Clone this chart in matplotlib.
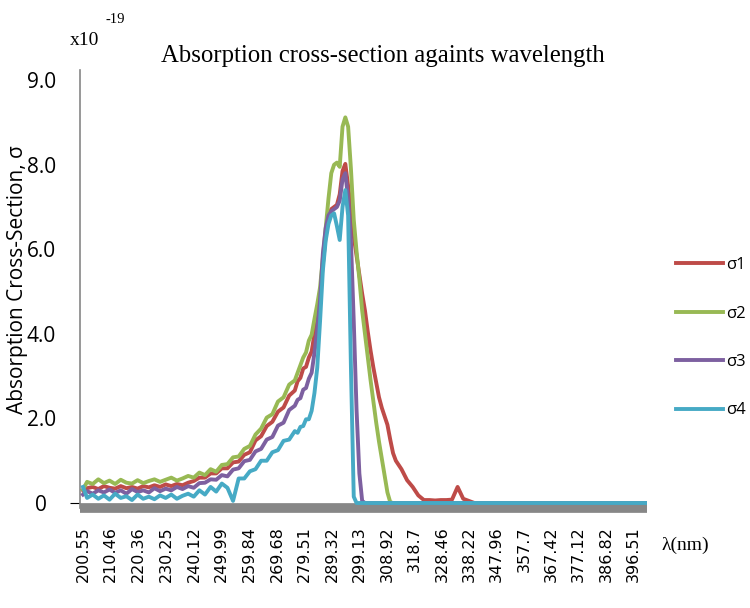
import matplotlib
matplotlib.use("Agg")
import matplotlib.pyplot as plt

# === DATA (y in axis units; tick labels below are what the chart prints) ===
wavelength = [
    200.55, 202, 204, 206, 208, 210, 212, 214, 216, 218,
    220, 222, 224, 226, 228, 230, 232, 234, 236, 238,
    240, 242, 244, 246, 248, 250, 252, 254, 256, 258,
    260, 262, 264, 266, 268, 270, 272, 274, 276,
    277, 278, 279, 280, 281, 282, 283, 284, 285, 286,
    287, 288, 289, 290, 291, 292, 293, 294, 295, 296,
    297, 298, 299, 300, 301, 302, 303, 304, 305, 306,
    307, 308, 309, 310, 311, 312,
    314, 316, 318, 320, 322, 324, 326, 328, 330, 332,
    334, 336, 338, 340,
    350, 360, 370, 380, 390, 401.5,
]

sigma1 = [
    0.30, 0.35, 0.38, 0.33, 0.40, 0.36, 0.34, 0.40, 0.35, 0.38,
    0.34, 0.40, 0.37, 0.42, 0.38, 0.44, 0.40, 0.45, 0.42, 0.48,
    0.52, 0.60, 0.60, 0.70, 0.70, 0.82, 0.82, 0.96, 0.98, 1.14,
    1.20, 1.48, 1.58, 1.82, 1.92, 2.16, 2.26, 2.54, 2.66,
    2.88, 2.96, 3.18, 3.22, 3.44, 3.58, 4.00, 4.40, 4.90, 5.65,
    6.30, 6.75, 6.95, 7.00, 7.05, 7.30, 7.85, 8.02, 7.50, 6.95,
    6.30, 5.85, 5.40, 4.95, 4.55, 4.05, 3.60, 3.20, 2.85, 2.50,
    2.25, 2.05, 1.85, 1.50, 1.18, 1.00,
    0.80, 0.54, 0.38, 0.18, 0.07, 0.07, 0.06, 0.07, 0.07, 0.08,
    0.38, 0.10, 0.05, 0.00,
    0, 0, 0, 0, 0, 0,
]

sigma2 = [
    0.32, 0.50, 0.45, 0.56, 0.47, 0.53, 0.45, 0.55, 0.48, 0.46,
    0.54, 0.47, 0.52, 0.56, 0.50, 0.55, 0.60, 0.53, 0.58, 0.64,
    0.60, 0.72, 0.66, 0.80, 0.74, 0.90, 0.92, 1.08, 1.10, 1.28,
    1.35, 1.62, 1.76, 2.02, 2.10, 2.40, 2.50, 2.80, 2.90,
    3.08, 3.26, 3.44, 3.56, 3.84, 3.98, 4.35, 4.70, 5.10, 5.80,
    6.50, 7.20, 7.80, 8.00, 8.05, 7.95, 8.90, 9.12, 8.90, 7.90,
    6.70, 5.95, 5.30, 4.55, 4.00, 3.45, 2.90, 2.40, 1.90, 1.45,
    1.05, 0.65, 0.25, 0.02, 0, 0,
    0, 0, 0, 0, 0, 0, 0, 0, 0, 0,
    0, 0, 0, 0,
    0, 0, 0, 0, 0, 0,
]

sigma3 = [
    0.20, 0.28, 0.22, 0.30, 0.25, 0.32, 0.24, 0.30, 0.22, 0.33,
    0.26, 0.30, 0.25, 0.35, 0.28, 0.34, 0.30, 0.38, 0.33, 0.40,
    0.36, 0.47, 0.48, 0.56, 0.55, 0.66, 0.63, 0.79, 0.82, 0.99,
    1.02, 1.22, 1.28, 1.50, 1.56, 1.83, 1.90, 2.20, 2.30,
    2.44, 2.48, 2.68, 2.72, 2.94, 3.08, 3.55, 4.10, 4.80, 5.90,
    6.50, 6.80, 6.90, 6.95, 7.00, 7.15, 7.65, 7.80, 7.20, 6.20,
    4.30, 2.20, 0.70, 0.05, 0, 0, 0, 0, 0, 0,
    0, 0, 0, 0, 0, 0,
    0, 0, 0, 0, 0, 0, 0, 0, 0, 0,
    0, 0, 0, 0,
    0, 0, 0, 0, 0, 0,
]

sigma4 = [
    0.38, 0.12, 0.20, 0.10, 0.18, 0.08, 0.22, 0.12, 0.16, 0.07,
    0.20, 0.10, 0.15, 0.09, 0.18, 0.12, 0.20, 0.10, 0.17, 0.22,
    0.15, 0.30, 0.20, 0.38, 0.27, 0.46, 0.36, 0.05, 0.58, 0.58,
    0.75, 0.80, 1.00, 1.00, 1.20, 1.25, 1.47, 1.50, 1.70,
    1.66, 1.80, 1.82, 1.98, 1.98, 2.18, 2.60, 3.20, 4.30, 5.50,
    6.20, 6.60, 6.80, 6.85, 6.55, 6.22, 7.00, 7.40, 6.80, 3.20,
    0.15, 0, 0, 0, 0, 0, 0, 0, 0, 0,
    0, 0, 0, 0, 0, 0,
    0, 0, 0, 0, 0, 0, 0, 0, 0, 0,
    0, 0, 0, 0,
    0, 0, 0, 0, 0, 0,
]

series_names = ["σ1", "σ2", "σ3", "σ4"]
series_colors = ["#BE4B48", "#98B954", "#7D60A0", "#46AAC5"]

x_ticks = [200.55, 210.46, 220.36, 230.25, 240.12, 249.99, 259.84, 269.68,
           279.51, 289.32, 299.13, 308.92, 318.7, 328.46, 338.22, 347.96,
           357.7, 367.42, 377.12, 386.82, 396.51]
y_ticks = [0, 2, 4, 6, 8, 10]
y_tick_labels = ["0", "2.0", "4.0", "6.0", "8.0", "9.0"]

# === FIGURE ===
W, H = 750, 608
fig = plt.figure(figsize=(W / 100, H / 100), dpi=100)
ax = fig.add_axes([80 / W, 1 - 508 / H, (647 - 80) / W, (508 - 70) / H])

for vals, name, col in zip([sigma1, sigma2, sigma3, sigma4], series_names, series_colors):
    ax.plot(wavelength, vals, color=col, lw=2.8, label=name, zorder=3,
            solid_joinstyle="round")

ax.set_xlim(199.48, 401.47)
ax.set_ylim(-0.118, 10.24)

ax.set_xticks(x_ticks)
ax.set_xticklabels([str(t) for t in x_ticks], rotation=90,
                   fontfamily="DejaVu Sans", fontsize=11.5)
ax.tick_params(axis="x", length=0, pad=13)

ax.set_yticks(y_ticks)
ax.set_yticklabels(y_tick_labels, fontfamily="Open Sans", fontsize=15, ha="center")
ax.tick_params(axis="y", length=0, pad=28)
ax.yaxis.get_major_ticks()[0].tick1line.set_markersize(7)
ax.yaxis.get_major_ticks()[0].tick1line.set_color("#868686")

for side in ["top", "right"]:
    ax.spines[side].set_visible(False)
ax.spines["left"].set_color("#868686")
ax.spines["left"].set_linewidth(1.2)
ax.spines["bottom"].set_color("#878787")
ax.spines["bottom"].set_linewidth(7)
ax.spines["bottom"].set_capstyle("butt")

fig.text(18 / W, 1 - 280 / H, "Absorption Cross-Section, σ", rotation=90,
         ha="center", va="center", fontfamily=["Open Sans", "DejaVu Sans"], fontsize=15)

fig.text(383 / W, 1 - 56 / H, "Absorption cross-section againts wavelength",
         ha="center", va="center", fontfamily="Liberation Serif", fontsize=17.8)
fig.text(70 / W, 1 - 45 / H, "x10", ha="left", va="baseline",
         fontfamily="Liberation Serif", fontsize=14)
fig.text(105 / W, 1 - 23 / H, "-19", ha="left", va="baseline",
         fontfamily="Liberation Serif", fontsize=10.5)
fig.text(662 / W, 1 - 545 / H, "λ(nm)", ha="left", va="center",
         fontfamily="Liberation Serif", fontsize=14)

handles, labels = ax.get_legend_handles_labels()
leg = fig.legend(handles, labels, loc="upper left",
                 bbox_to_anchor=(676 / W, 1 - 257 / H), frameon=False,
                 prop={"family": ["Open Sans", "DejaVu Sans"], "size": 12},
                 handlelength=2.8, handletextpad=0.2, labelspacing=1.95,
                 borderpad=0, borderaxespad=0)
for line in leg.get_lines():
    line.set_linewidth(2.8)

fig.savefig("out.png", dpi=100, facecolor="white")
